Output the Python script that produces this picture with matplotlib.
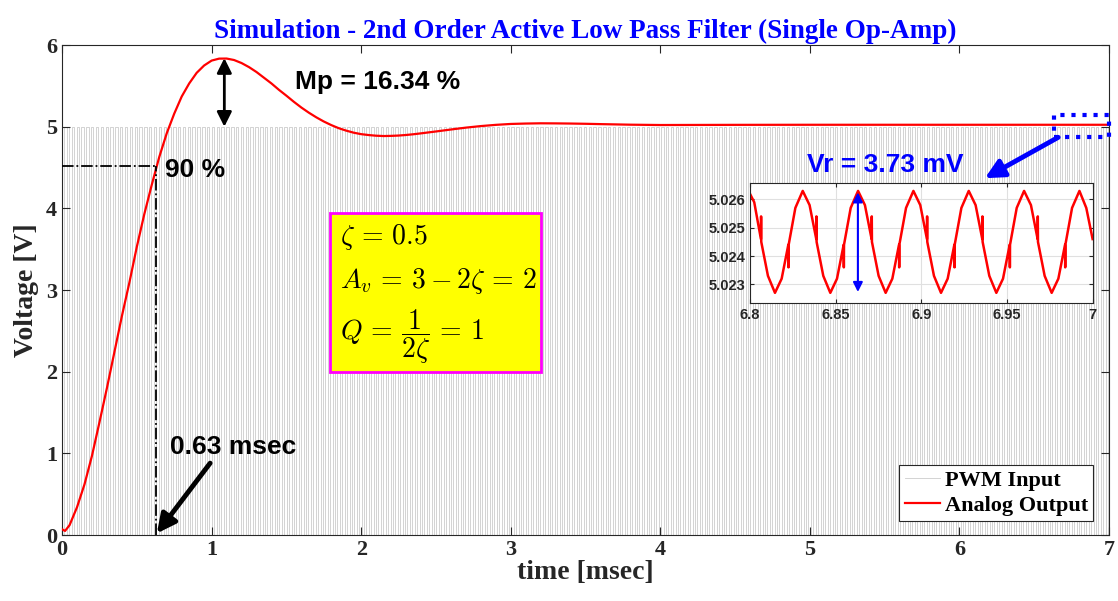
import numpy as np
import matplotlib.pyplot as plt
from matplotlib.patches import Rectangle

plt.rcParams['mathtext.fontset'] = 'cm'

# PWM input (~31 kHz, 50 % duty, 0-5 V)
pwm_period = 0.0323   # msec
pwm_duty = 0.5
pwm_high = 5.0
t_end = 7.0

# analog output
t_out = [0, 0.02, 0.05, 0.1, 0.15, 0.2, 0.25, 0.3, 0.35, 0.4, 0.45, 0.5, 0.55, 0.6,
         0.65, 0.7, 0.75, 0.8, 0.85, 0.9, 0.95, 1.0, 1.05, 1.1, 1.15, 1.2, 1.25, 1.3, 1.35,
         1.4, 1.45, 1.5, 1.55, 1.6, 1.65, 1.7, 1.75, 1.8, 1.85, 1.9, 1.95, 2.0, 2.05, 2.1,
         2.15, 2.2, 2.25, 2.3, 2.35, 2.4, 2.5, 2.6, 2.7, 2.8, 2.9, 3.0, 3.1, 3.2, 3.3, 3.4,
         3.5, 3.6, 3.8, 4.0, 4.5, 5.0, 5.5, 6.0, 6.5, 7.0]
v_out = [0.07, 0.05, 0.12, 0.34, 0.62, 0.97, 1.38, 1.80, 2.24, 2.68, 3.09, 3.53, 3.93, 4.29,
         4.63, 4.92, 5.16, 5.37, 5.53, 5.66, 5.75, 5.81, 5.834, 5.835, 5.817, 5.78, 5.73, 5.67, 5.60,
         5.53, 5.452, 5.38, 5.305, 5.235, 5.172, 5.115, 5.064, 5.02, 4.982, 4.952, 4.927, 4.909, 4.898, 4.89,
         4.886, 4.888, 4.892, 4.899, 4.908, 4.919, 4.942, 4.966, 4.989, 5.008, 5.023, 5.034, 5.039, 5.042, 5.041, 5.039,
         5.036, 5.032, 5.025, 5.021, 5.023, 5.024, 5.024, 5.024, 5.024, 5.024]

# ripple detail (inset)
t_rip = [6.800, 6.8025, 6.8064, 6.8065, 6.8066, 6.8105, 6.8146, 6.8185, 6.8224, 6.8225, 6.8226, 6.8265,
         6.8308, 6.8348, 6.8387, 6.8388, 6.8389, 6.8428, 6.8469, 6.8508, 6.8547, 6.8548, 6.8549, 6.8588,
         6.8631, 6.8671, 6.8710, 6.8711, 6.8712, 6.8751, 6.8792, 6.8831, 6.8870, 6.8871, 6.8872, 6.8911,
         6.8954, 6.8994, 6.9033, 6.9034, 6.9035, 6.9074, 6.9115, 6.9154, 6.9193, 6.9194, 6.9195, 6.9234,
         6.9277, 6.9317, 6.9356, 6.9357, 6.9358, 6.9397, 6.9438, 6.9477, 6.9516, 6.9517, 6.9518, 6.9557,
         6.9600, 6.9640, 6.9679, 6.9680, 6.9681, 6.9720, 6.9761, 6.9800, 6.9839, 6.9840, 6.9841, 6.9880,
         6.9923, 6.9963, 7.000]
v_rip = [5.0262, 5.0259, 5.0246, 5.0254, 5.0245, 5.0233, 5.0227, 5.0232, 5.0244, 5.0236, 5.0244, 5.0257,
         5.0263, 5.0258, 5.0246, 5.0254, 5.0245, 5.0233, 5.0227, 5.0232, 5.0244, 5.0236, 5.0244, 5.0257,
         5.0263, 5.0258, 5.0246, 5.0254, 5.0245, 5.0233, 5.0227, 5.0232, 5.0244, 5.0236, 5.0244, 5.0257,
         5.0263, 5.0258, 5.0246, 5.0254, 5.0245, 5.0233, 5.0227, 5.0232, 5.0244, 5.0236, 5.0244, 5.0257,
         5.0263, 5.0258, 5.0246, 5.0254, 5.0245, 5.0233, 5.0227, 5.0232, 5.0244, 5.0236, 5.0244, 5.0257,
         5.0263, 5.0258, 5.0246, 5.0254, 5.0245, 5.0233, 5.0227, 5.0232, 5.0244, 5.0236, 5.0244, 5.0257,
         5.0263, 5.0257, 5.0246]

# build square wave from the pwm parameters
n_cyc = int(np.ceil(t_end / pwm_period))
k = np.arange(n_cyc) * pwm_period
t_pwm = np.column_stack([k, k, k + pwm_duty * pwm_period, k + pwm_duty * pwm_period]).ravel()
v_pwm = np.tile([0, pwm_high, pwm_high, 0], n_cyc)

dark = '#262626'
serif_b = dict(family='Liberation Serif', weight='bold')
sans_b = dict(family='Liberation Sans', weight='bold')

fig = plt.figure(figsize=(11.18, 6.01), dpi=100)
ax = fig.add_axes([0.0555, 0.1098, 0.9365, 0.8152])

ax.plot(t_pwm, v_pwm, color='#cccccc', lw=0.6, label='PWM Input', zorder=1)
ax.plot(t_out, v_out, color='red', lw=1.6, label='Analog Output', zorder=3)

ax.set_xlim(0, 7)
ax.set_ylim(0, 6)
ax.set_xticks(range(8))
ax.set_yticks(range(7))
ax.tick_params(direction='in', length=6, top=True, right=True, colors=dark, labelsize=16, width=0.8)
for lab in ax.get_xticklabels() + ax.get_yticklabels():
    lab.set_fontfamily('Liberation Serif')
    lab.set_fontweight('bold')
for s in ax.spines.values():
    s.set_color(dark)
    s.set_linewidth(0.8)

ax.set_title('Simulation - 2nd Order Active Low Pass Filter (Single Op-Amp)',
             color='#0000ff', fontsize=19.5, pad=5, **serif_b)
ax.set_xlabel('time [msec]', fontsize=20, color=dark, labelpad=0, **serif_b)
ax.set_ylabel('Voltage [V]', fontsize=20, color=dark, labelpad=5, **serif_b)

# 90 % rise markers
ax.plot([0, 0.63], [4.52, 4.52], color='black', ls='-.', lw=1.3, zorder=4)
ax.plot([0.63, 0.63], [0, 4.52], color='black', ls='-.', lw=1.3, zorder=4)
ax.text(0.69, 4.47, '90 %', fontsize=19, va='center', zorder=6, **sans_b)
ax.text(0.72, 1.08, '0.63 msec', fontsize=19, va='center', zorder=6, **sans_b)
ax.annotate('', xy=(0.634, 0.02), xytext=(0.99, 0.88),
            arrowprops=dict(arrowstyle='-|>', color='black', lw=3.5, mutation_scale=28,
                            shrinkA=0, shrinkB=0), zorder=6)

# overshoot
ax.annotate('', xy=(1.085, 5.0), xytext=(1.085, 5.84),
            arrowprops=dict(arrowstyle='<|-|>', color='black', lw=2, mutation_scale=22,
                            shrinkA=0, shrinkB=0), zorder=6)
ax.text(1.56, 5.545, 'Mp = 16.34 %', fontsize=19, va='center', zorder=6, **sans_b)

# ripple zoom marker
ax.add_patch(Rectangle((6.63, 4.87), 0.37, 0.27, fill=False, ec='#0000ff', ls=':', lw=3,
                       clip_on=False, zorder=7))
ax.annotate('', xy=(6.17, 4.37), xytext=(6.66, 4.87),
            arrowprops=dict(arrowstyle='-|>', color='#0000ff', lw=3.5, mutation_scale=28,
                            shrinkA=0, shrinkB=0), zorder=6)
ax.text(4.98, 4.53, 'Vr = 3.73 mV', fontsize=19, va='center', color='#0000ff', zorder=6, **sans_b)

# parameter box
ax.add_patch(Rectangle((0.2952, 0.381), 0.1887, 0.2646, transform=fig.transFigure,
                       fc='yellow', ec='#ff00ff', lw=2, zorder=8))
ax.text(0.304, 0.6057, r'$\zeta \,=\, 0.5$', transform=fig.transFigure, fontsize=20,
        va='center', zorder=9)
ax.text(0.304, 0.5324, r'$A_v \,=\, 3 - 2\zeta \,=\, 2$', transform=fig.transFigure, fontsize=20,
        va='center', zorder=9)
ax.text(0.304, 0.4393, r'$Q \,=\, \dfrac{1}{2\zeta} \,=\, 1$', transform=fig.transFigure, fontsize=20,
        va='center', zorder=9)

leg = ax.legend(loc='lower right', bbox_to_anchor=(0.985, 0.028), borderaxespad=0,
                fancybox=False, edgecolor=dark, framealpha=1,
                prop=dict(family='Liberation Serif', weight='bold', size=16),
                handlelength=1.6, handletextpad=0.2, borderpad=0.25, labelspacing=0.2)
leg.get_frame().set_linewidth(0.8)
leg.set_zorder(10)

# inset
axi = fig.add_axes([0.6708, 0.4953, 0.3065, 0.2007])
axi.plot(t_rip, v_rip, color='red', lw=1.8)
axi.set_xlim(6.8, 7.0)
axi.set_ylim(5.02233, 5.02659)
axi.set_xticks([6.8, 6.85, 6.9, 6.95, 7.0])
axi.set_xticklabels(['6.8', '6.85', '6.9', '6.95', '7'])
axi.set_yticks([5.023, 5.024, 5.025, 5.026])
axi.set_yticklabels(['5.023', '5.024', '5.025', '5.026'])
axi.grid(True, color='#e0e0e0', lw=0.8)
axi.tick_params(direction='in', length=3, colors=dark, labelsize=10.5, top=True, right=True)
for lab in axi.get_xticklabels() + axi.get_yticklabels():
    lab.set_fontfamily('Liberation Sans')
    lab.set_fontweight('bold')
for s in axi.spines.values():
    s.set_color(dark)
    s.set_linewidth(0.8)
axi.annotate('', xy=(6.863, 5.02273), xytext=(6.863, 5.02625),
             arrowprops=dict(arrowstyle='<|-|>', color='#0000ff', lw=1.5, mutation_scale=14,
                             shrinkA=0, shrinkB=0))

fig.savefig('out.png', dpi=100)
